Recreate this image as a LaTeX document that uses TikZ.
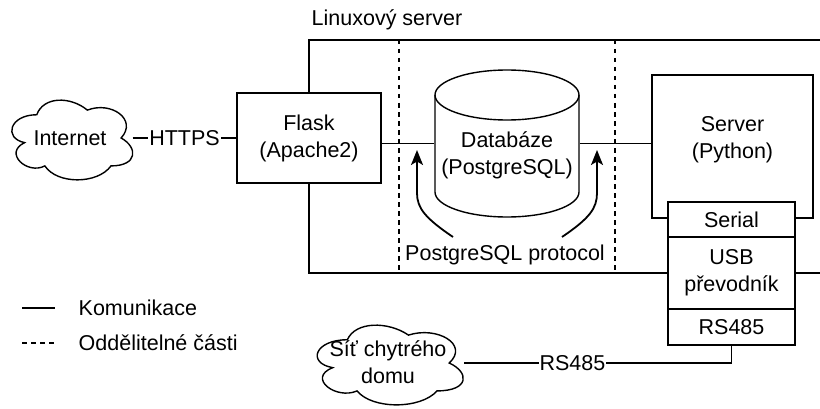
\documentclass[tikz,border=0pt]{standalone}
\usepackage{fontspec}
\setmainfont{Liberation Sans}
\usetikzlibrary{arrows.meta}
\newcommand\drawiocloudpath{(0.25,0.25) .. controls (0.05,0.25) and (0,0.5) .. (0.16,0.55) .. controls (0,0.66) and (0.18,0.9) .. (0.31,0.8) .. controls (0.4,1) and (0.7,1) .. (0.8,0.8) .. controls (1,0.8) and (1,0.6) .. (0.875,0.5) .. controls (1,0.3) and (0.8,0.1) .. (0.625,0.2) .. controls (0.5,0.05) and (0.3,0.05) .. (0.25,0.25) -- cycle}
\begin{document}
\begin{tikzpicture}[x=1pt,y=1pt, line width=1.4pt,
  every node/.style={font=\fontsize{21.5}{27}\selectfont, align=center, inner sep=0pt},
  box/.style={draw, fill=white, line width=1.4pt},
  lbl/.style={fill=white, inner sep=1pt},
  sepline/.style={dash pattern=on 4.5pt off 4.5pt, line width=1.3pt},
  proto/.style={line width=1.8pt, -{Stealth[length=15pt,width=12pt,inset=3.5pt]}},
  cloudbox/.style={draw, fill=white, line width=1.4pt}
]
\useasboundingbox (0,0) rectangle (820,408);

% Linux server frame
\coordinate (lsTR) at (820,368);
\coordinate (lsTL) at (309,368);
\coordinate (lsBL) at (309,135);
\coordinate (lsBR) at (820,135);
\draw (lsTR) -- (lsTL) -- (lsBL) -- (lsBR);
\node[anchor=west] (lstitle) at (311,388) {Linuxový server};

% separators
\coordinate (d1t) at (399,368); \coordinate (d1b) at (399,135);
\coordinate (d2t) at (615,368); \coordinate (d2b) at (615,135);
\draw[sepline] (d1t) -- (d1b);
\draw[sepline] (d2t) -- (d2b);

% Flask
\node[box, minimum width=144, minimum height=90] (flask) at (309,270) {Flask\\(Apache2)};

% Internet cloud
\begin{scope}[shift={(3,316.5)}, xscale=135, yscale=-93]
\path[cloudbox] \drawiocloudpath;
\end{scope}
\node[minimum width=124, minimum height=80] (inet) at (70,270) {Internet};
\draw (inet) -- node[lbl]{HTTPS} (flask);

% Database cylinder
\draw[fill=white] (435,313) -- (435,216) arc[start angle=180, end angle=360, x radius=72pt, y radius=25pt] -- (579,313) arc[start angle=0, end angle=180, x radius=72pt, y radius=25pt] -- cycle;
\draw (435,313) arc[start angle=180, end angle=360, x radius=72pt, y radius=25pt];
\node[minimum width=144, minimum height=147] (db) at (507,264.5) {};
\node (dbtext) at (507,253) {Databáze\\(PostgreSQL)};

% Server
\node[box, minimum width=161, minimum height=143] (srv) at (732.5,261.5) {};
\node (srvtext) at (732.5,268) {Server\\(Python)};

\draw (flask.east |- db.west) -- (db.west);
\draw (db.east) -- (db.east -| srv.west);

% Serial / USB / RS485
\node[box, minimum width=127, minimum height=35] (serial) at (731.5,188.5) {Serial};
\node[box, minimum width=127, minimum height=72] (usb) at (731.5,135) {USB\\převodník};
\node[box, minimum width=127, minimum height=36] (rs) at (731.5,81) {RS485};

% Smart home cloud
\begin{scope}[shift={(306.6,91.5)}, xscale=163, yscale=-93]
\path[cloudbox] \drawiocloudpath;
\end{scope}
\node[minimum width=150, minimum height=80] (sit) at (388,46) {Síť chytrého\\domu};
\coordinate (bend) at (rs.south |- 0,45);
\draw (rs.south) -- (bend) -- node[lbl, pos=0.594]{RS485} (bend -| sit.east);

% PostgreSQL protocol
\node (proto) at (505,153) {PostgreSQL protocol};
\coordinate (p1s) at (453,171); \coordinate (p1t) at (417,258);
\coordinate (p2s) at (562,171); \coordinate (p2t) at (597,258);
\draw[proto] (p1s) .. controls (425,190) and (417,200) .. (417,215) -- (p1t);
\draw[proto] (p2s) .. controls (590,190) and (597,200) .. (597,215) -- (p2t);

% Legend
\coordinate (l1a) at (22,100); \coordinate (l1b) at (55,100);
\draw (l1a) -- (l1b);
\node[anchor=west] (l1t) at (78,100) {Komunikace};
\coordinate (l2a) at (22,65); \coordinate (l2b) at (55,65);
\draw[sepline] (l2a) -- (l2b);
\node[anchor=west] (l2t) at (78,65) {Oddělitelné části};
\end{tikzpicture}
\end{document}
